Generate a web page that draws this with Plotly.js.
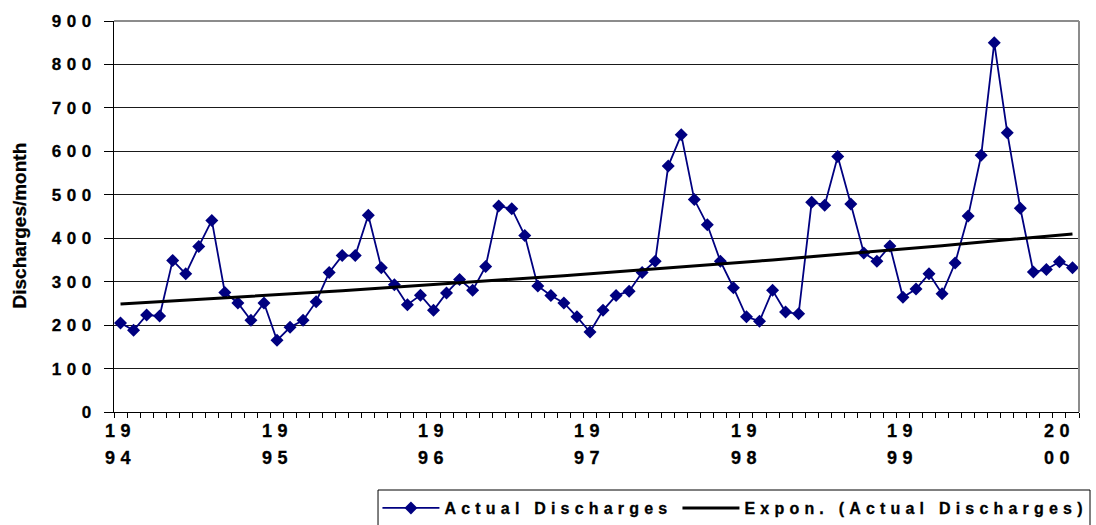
<!DOCTYPE html>
<html>
<head>
<meta charset="utf-8">
<script src="https://cdn.plot.ly/plotly-3.0.1.min.js"></script>
<style>
  html, body { margin: 0; padding: 0; background: #fff; }
  #chart { width: 1096px; height: 525px; }
  /* Wide-tracked heavy lettering for the value ticks */
  .ytick text { letter-spacing: 5.5px; }
  .ytick text, .legendtext, .annotation-text { stroke: #000; stroke-width: 0.3px; }
</style>
</head>
<body>
<div id="chart"></div>
<script>
// Monthly discharges, January 1994 – February 2000
const years = ['1994', '1995', '1996', '1997', '1998', '1999', '2000'];
const monthsPerYear = 12;

const discharges1994 = [205, 188, 223, 221, 349, 318, 381, 441, 275, 251, 211, 251];
const discharges1995 = [165, 195, 211, 254, 321, 360, 360, 453, 332, 293, 247, 269];
const discharges1996 = [234, 274, 305, 280, 335, 474, 468, 406, 290, 268, 251, 219];
const discharges1997 = [184, 234, 268, 278, 321, 347, 566, 638, 489, 431, 347, 286];
const discharges1998 = [219, 209, 280, 230, 226, 483, 476, 588, 479, 366, 347, 382];
const discharges1999 = [264, 283, 318, 272, 343, 451, 591, 850, 643, 469, 322, 328];
const discharges2000 = [346, 332];

const seriesName = 'Actual Discharges';
const trendName = 'Expon. (Actual Discharges)';
const yTitle = 'Discharges/month';

const discharges = [].concat(discharges1994, discharges1995, discharges1996,
  discharges1997, discharges1998, discharges1999, discharges2000);
const monthIndex = discharges.map((_, i) => i);

// Exponential trendline: least squares fit of ln(y) against period number
function exponentialFit(values) {
  const n = values.length;
  let sx = 0, sy = 0, sxx = 0, sxy = 0;
  values.forEach((v, i) => {
    const x = i + 1, ly = Math.log(v);
    sx += x; sy += ly; sxx += x * x; sxy += x * ly;
  });
  const b = (n * sxy - sx * sy) / (n * sxx - sx * sx);
  const lnA = (sy - b * sx) / n;
  return values.map((_, i) => Math.exp(lnA + b * (i + 1)));
}
const trend = exponentialFit(discharges);

const FAMILY = 'Liberation Sans, Arial, sans-serif';
const tracked = (s, px) => '<span style="letter-spacing:' + px + 'px">' + s + '</span>';

// Year labels split over two lines under the first month of each year
const yearAnnotations = [];
years.forEach((yr, k) => {
  const pos = k * monthsPerYear;
  [yr.slice(0, 2), yr.slice(2)].forEach((part, row) => {
    yearAnnotations.push({
      x: pos, xref: 'x', y: 0, yref: 'paper',
      xanchor: 'center', yanchor: 'top',
      yshift: -7 - row * 26.5,
      text: '<b>' + tracked(part, 5.5) + '</b>', showarrow: false,
      font: { family: FAMILY, size: 18, color: '#000', weight: 700 }
    });
  });
});

const traces = [
  {
    x: monthIndex, y: discharges, name: '<b>' + tracked(seriesName, 5.2) + '</b>',
    type: 'scatter', mode: 'lines+markers',
    line: { color: '#000080', width: 1.8 },
    marker: { symbol: 'diamond', size: 10, color: '#000080' }
  },
  {
    x: monthIndex, y: trend, name: '<b>' + tracked(trendName, 5.2) + '</b>',
    type: 'scatter', mode: 'lines',
    line: { color: '#000', width: 3 }
  }
];

const layout = {
  width: 1096, height: 525,
  margin: { l: 114, r: 17, t: 21, b: 113, autoexpand: false },
  paper_bgcolor: '#fff', plot_bgcolor: '#fff',
  showlegend: true,
  xaxis: {
    range: [-0.5, discharges.length - 0.5],
    tickmode: 'linear', tick0: -0.5, dtick: 1,
    ticks: 'outside', ticklen: 5, tickcolor: '#000', tickwidth: 1,
    showticklabels: false, showgrid: false, zeroline: false,
    showline: true, linecolor: '#000', linewidth: 1
  },
  yaxis: {
    range: [0, 900], tickmode: 'linear', tick0: 0, dtick: 100,
    ticks: 'outside', ticklen: 9, tickcolor: '#000', tickwidth: 1,
    showgrid: true, gridcolor: '#1a1a1a', gridwidth: 1,
    zeroline: false, showline: true, linecolor: '#000', linewidth: 1,
    tickfont: { family: FAMILY, size: 17, color: '#000', weight: 700 },
    ticklabelstandoff: 4
  },
  legend: {
    orientation: 'h', x: 0.273, xanchor: 'left', y: -0.202, yanchor: 'top',
    borderwidth: 0, bgcolor: 'rgba(0,0,0,0)',
    font: { family: FAMILY, size: 16, color: '#000', weight: 700 },
    itemwidth: 57
  },
  shapes: [
    // plot-area frame on the top and right edges
    { type: 'line', xref: 'paper', yref: 'paper', x0: 0, x1: 1, y0: 1, y1: 1,
      line: { color: '#8c8c8c', width: 2 }, layer: 'above' },
    { type: 'line', xref: 'paper', yref: 'paper', x0: 1, x1: 1, y0: 0, y1: 1,
      line: { color: '#8c8c8c', width: 2 }, layer: 'above' },
    // legend frame, running off the bottom edge
    { type: 'rect', xref: 'paper', yref: 'paper',
      x0: 0.2736, x1: 1.0114, y0: -0.1995, y1: -0.32,
      line: { color: '#000', width: 1 }, fillcolor: 'rgba(0,0,0,0)', layer: 'above' }
  ],
  annotations: yearAnnotations.concat([
    {
      text: '<b>' + yTitle + '</b>', textangle: -90, showarrow: false,
      xref: 'paper', x: 0, xshift: -95, xanchor: 'center',
      yref: 'paper', y: 0.477, yanchor: 'middle',
      font: { family: FAMILY, size: 19, color: '#000', weight: 700 }
    }
  ])
};

Plotly.newPlot('chart', traces, layout, { displayModeBar: false, staticPlot: true });
</script>
</body>
</html>
